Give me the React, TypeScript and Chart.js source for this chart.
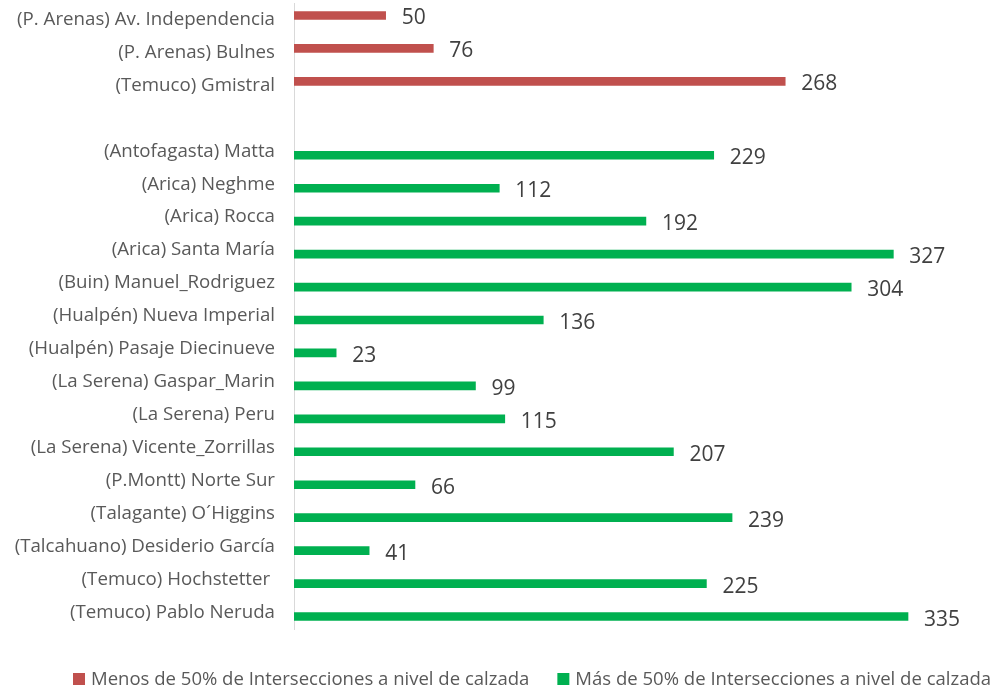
import React, { useEffect, useRef } from "react";
import { Chart, registerables } from "chart.js";

Chart.register(...registerables);

const categories: string[] = [
  "(P. Arenas) Av. Independencia",
  "(P. Arenas) Bulnes",
  "(Temuco) Gmistral",
  "",
  "(Antofagasta) Matta",
  "(Arica) Neghme",
  "(Arica) Rocca",
  "(Arica) Santa María",
  "(Buin) Manuel_Rodriguez",
  "(Hualpén) Nueva Imperial",
  "(Hualpén) Pasaje Diecinueve",
  "(La Serena) Gaspar_Marin",
  "(La Serena) Peru",
  "(La Serena) Vicente_Zorrillas",
  "(P.Montt) Norte Sur",
  "(Talagante) O´Higgins",
  "(Talcahuano) Desiderio García",
  "(Temuco) Hochstetter ",
  "(Temuco) Pablo Neruda",
];

const menosValues: (number | null)[] = [
  50, 76, 268, null, null, null, null, null, null, null, null, null, null, null, null, null, null, null, null,
];

const masValues: (number | null)[] = [
  null, null, null, null, 229, 112, 192, 327, 304, 136, 23, 99, 115, 207, 66, 239, 41, 225, 335,
];

const seriesNames = [
  "Menos de 50% de Intersecciones a nivel de calzada",
  "Más de 50% de Intersecciones a nivel de calzada",
];

const FONT = "'Open Sans'";
const TICK_SIZE = 18.7;
const LABEL_SIZE = 21;
const LEGEND_SIZE = 18.55;

const valueLabels = {
  id: "valueLabels",
  afterDatasetsDraw(chart: any) {
    const ctx = chart.ctx;
    ctx.save();
    ctx.font = `${LABEL_SIZE}px ${FONT}`;
    ctx.fillStyle = "#404040";
    ctx.textBaseline = "middle";
    ctx.textAlign = "left";
    chart.data.datasets.forEach((ds: any, i: number) => {
      const meta = chart.getDatasetMeta(i);
      meta.data.forEach((el: any, j: number) => {
        const v = ds.data[j];
        if (v == null) return;
        ctx.fillText(String(v), el.x + 16, el.y + 3);
      });
    });
    ctx.restore();
  },
};

const customLegend = {
  id: "customLegend",
  afterDraw(chart: any) {
    const ctx = chart.ctx;
    ctx.save();
    ctx.font = `${LEGEND_SIZE}px ${FONT}`;
    ctx.textBaseline = "middle";
    ctx.textAlign = "left";
    let x = 73;
    const y = 679;
    chart.data.datasets.forEach((ds: any) => {
      ctx.fillStyle = ds.backgroundColor;
      ctx.fillRect(x, y - 6, 12, 12);
      x += 18;
      ctx.fillStyle = "#595959";
      ctx.fillText(ds.label, x, y + 1);
      x += ctx.measureText(ds.label).width + 28;
    });
    ctx.restore();
  },
};

export default function App() {
  const canvasRef = useRef<HTMLCanvasElement | null>(null);

  useEffect(() => {
    document.body.style.margin = "0";
    const canvas = canvasRef.current;
    if (!canvas) return;
    const chart = new Chart(canvas, {
      type: "bar",
      data: {
        labels: categories,
        datasets: [
          {
            label: seriesNames[0],
            data: menosValues,
            backgroundColor: "#C0504D",
            barThickness: 8,
          },
          {
            label: seriesNames[1],
            data: masValues,
            backgroundColor: "#00B050",
            barThickness: 8,
          },
        ],
      },
      options: {
        indexAxis: "y",
        animation: false,
        responsive: true,
        maintainAspectRatio: false,
        layout: { padding: { top: 3, right: 63.5, bottom: 58, left: 0 } },
        plugins: {
          legend: { display: false },
          tooltip: { enabled: false },
        },
        scales: {
          x: {
            type: "linear",
            min: 0,
            max: 350,
            display: false,
          },
          y: {
            type: "category",
            grid: {
              display: true,
              drawOnChartArea: false,
              drawTicks: true,
              tickLength: 19,
              color: "rgba(0,0,0,0)",
            },
            border: { display: true, color: "#D9D9D9", width: 1 },
            ticks: {
              font: { family: FONT, size: TICK_SIZE },
              color: "#595959",
              padding: 0,
              autoSkip: false,
            },
            afterFit(scale: any) {
              scale.width = 294;
              scale.paddingTop = 0;
              scale.paddingBottom = 0;
            },
          },
        },
      },
      plugins: [valueLabels, customLegend],
    });
    return () => chart.destroy();
  }, []);

  return (
    <div style={{ position: "relative", width: 999, height: 687 }}>
      <canvas ref={canvasRef} />
    </div>
  );
}
